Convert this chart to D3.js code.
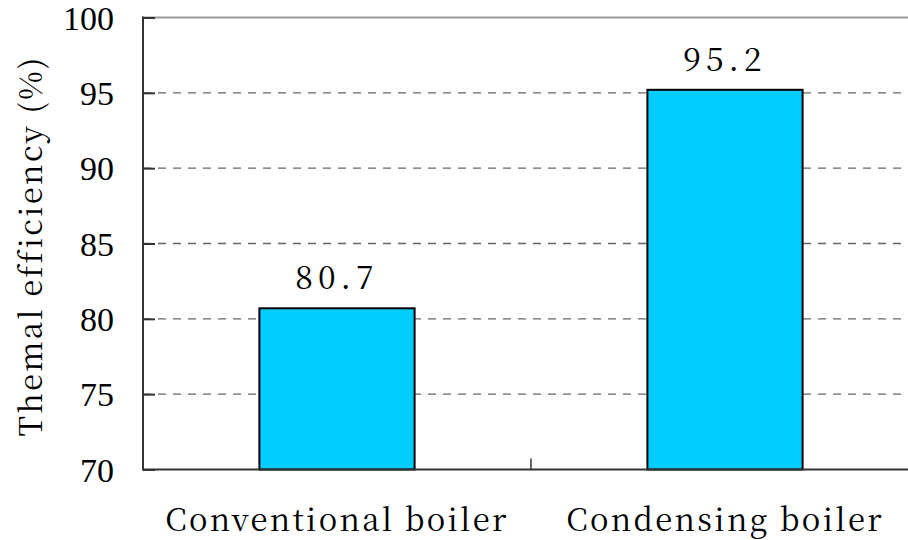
<!DOCTYPE html>
<html>
<head>
<meta charset="utf-8">
<script src="https://cdn.jsdelivr.net/npm/d3@7"></script>
<style>
  body { margin: 0; background: #fff; }
  svg { display: block; }
</style>
</head>
<body>
<div id="wrapper"></div>
<script>
// data
const categories = ['Conventional boiler', 'Condensing boiler']
const efficiency = [80.7, 95.2]
const yTicks = [70, 75, 80, 85, 90, 95, 100]
const yTitle = 'Themal efficiency (%)'

function barChart() {
    const dataset = categories.map((c, i) => ({ category: c, value: efficiency[i] }))
    const xAccessor = d => d.category
    const yAccessor = d => d.value

    const cjkSerif = '"Noto Serif CJK SC", "Liberation Serif", serif'

    // dimensions
    let dimensions = {
        width: 908,
        height: 540,
        margin: { top: 17.5, right: -11, bottom: 70.5, left: 143 }
    }
    dimensions.boundedWidth = dimensions.width - dimensions.margin.left - dimensions.margin.right
    dimensions.boundedHeight = dimensions.height - dimensions.margin.top - dimensions.margin.bottom

    const wrapper = d3.select('#wrapper')
        .append('svg')
            .attr('width', dimensions.width)
            .attr('height', dimensions.height)

    const bounds = wrapper.append('g')
        .attr('transform', `translate(${dimensions.margin.left},${dimensions.margin.top})`)

    // scales
    const xScale = d3.scaleBand()
        .domain(categories)
        .range([0, dimensions.boundedWidth])
        .paddingInner(0.6)
        .paddingOuter(0.3)

    const catScale = d3.scaleBand()
        .domain(categories)
        .range([0, dimensions.boundedWidth])

    const yScale = d3.scaleLinear()
        .domain([70, 100])
        .range([dimensions.boundedHeight, 0])

    // grid lines
    bounds.append('g')
        .selectAll('line')
        .data(yTicks.filter(t => t > 70 && t < 100))
        .enter().append('line')
            .attr('x1', 0)
            .attr('x2', dimensions.boundedWidth)
            .attr('y1', d => yScale(d))
            .attr('y2', d => yScale(d))
            .attr('stroke', '#666')
            .attr('stroke-width', 1.3)
            .attr('stroke-dasharray', '8,7')

    // top border
    bounds.append('line')
        .attr('x1', 0)
        .attr('x2', dimensions.boundedWidth)
        .attr('y1', 0)
        .attr('y2', 0)
        .attr('stroke', '#999')
        .attr('stroke-width', 2)

    // bars
    bounds.selectAll('rect')
        .data(dataset)
        .enter().append('rect')
            .attr('x', d => xScale(xAccessor(d)))
            .attr('y', d => yScale(yAccessor(d)))
            .attr('width', xScale.bandwidth())
            .attr('height', d => dimensions.boundedHeight - yScale(yAccessor(d)))
            .attr('fill', '#00CCFF')
            .attr('stroke', '#000')
            .attr('stroke-width', 2)

    // value labels
    bounds.selectAll('.value-label')
        .data(dataset)
        .enter().append('text')
            .attr('class', 'value-label')
            .attr('x', d => xScale(xAccessor(d)) + xScale.bandwidth() / 2)
            .attr('y', d => yScale(yAccessor(d)) - 19)
            .attr('text-anchor', 'middle')
            .style('font-family', cjkSerif)
            .style('font-size', '32px')
            .style('letter-spacing', '5px')
            .attr('fill', '#000')
            .text(d => d3.format('.1f')(yAccessor(d)))

    // y axis ticks (inward)
    const yAxisGenerator = d3.axisRight(yScale)
        .tickValues(yTicks)
        .tickSize(12)
        .tickFormat('')
    const yAxis = bounds.append('g')
        .call(yAxisGenerator)
    yAxis.select('.domain').remove()
    yAxis.selectAll('.tick line')
        .attr('stroke', '#333')
        .attr('stroke-width', 2)

    bounds.append('line')
        .attr('x1', 0).attr('x2', 0)
        .attr('y1', -1).attr('y2', dimensions.boundedHeight + 1)
        .attr('stroke', '#333')
        .attr('stroke-width', 2)

    bounds.append('g')
        .selectAll('text')
        .data(yTicks)
        .enter().append('text')
            .attr('x', -29)
            .attr('y', d => yScale(d) + 12)
            .attr('text-anchor', 'end')
            .style('font-family', '"Liberation Serif"')
            .style('font-size', '34px')
            .attr('fill', '#000')
            .text(d => d)

    // x axis
    bounds.append('line')
        .attr('x1', 0).attr('x2', dimensions.boundedWidth)
        .attr('y1', dimensions.boundedHeight).attr('y2', dimensions.boundedHeight)
        .attr('stroke', '#333')
        .attr('stroke-width', 2)

    bounds.append('g')
        .selectAll('line')
        .data(categories.slice(1))
        .enter().append('line')
            .attr('x1', d => catScale(d))
            .attr('x2', d => catScale(d))
            .attr('y1', dimensions.boundedHeight)
            .attr('y2', dimensions.boundedHeight - 11)
            .attr('stroke', '#333')
            .attr('stroke-width', 1.5)

    bounds.append('g')
        .selectAll('text')
        .data(categories)
        .enter().append('text')
            .attr('x', d => xScale(d) + xScale.bandwidth() / 2)
            .attr('y', dimensions.boundedHeight + 61)
            .attr('text-anchor', 'middle')
            .style('font-family', cjkSerif)
            .style('font-size', '31px')
            .style('letter-spacing', '2.3px')
            .attr('fill', '#000')
            .text(d => d)

    // y axis title
    wrapper.append('text')
        .attr('transform', 'translate(42,246) rotate(-90)')
        .attr('text-anchor', 'middle')
        .style('font-family', cjkSerif)
        .style('font-size', '31px')
        .style('letter-spacing', '2.3px')
        .attr('fill', '#000')
        .text(yTitle)
}

barChart()
</script>
</body>
</html>
